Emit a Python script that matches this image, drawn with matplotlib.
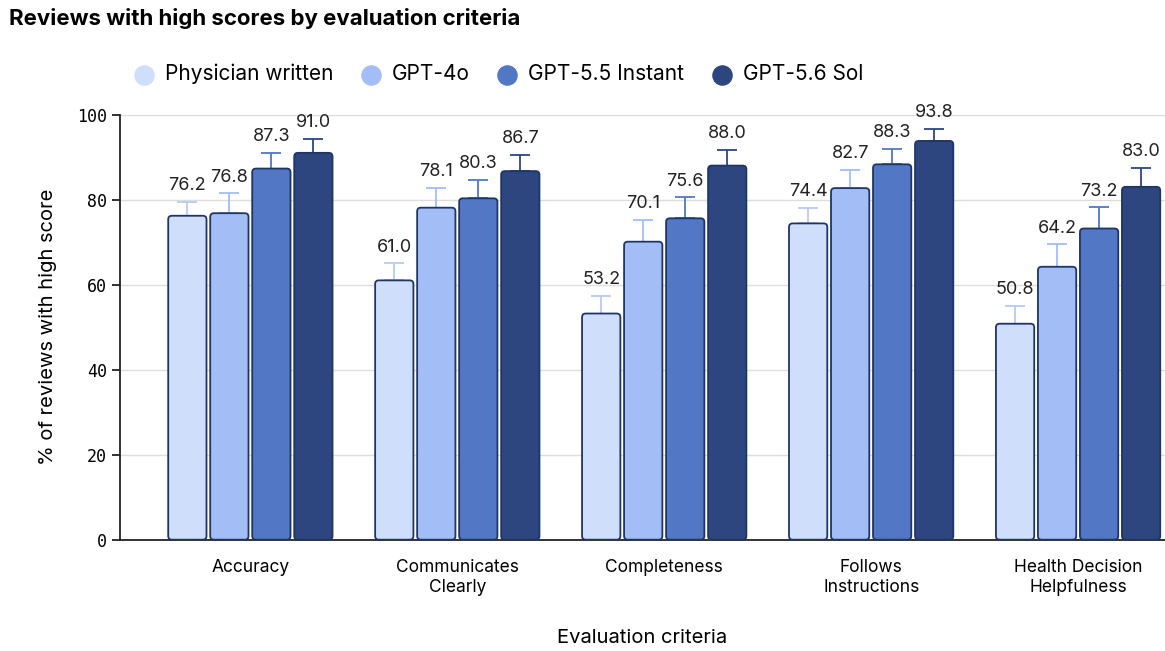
import matplotlib.pyplot as plt
from matplotlib.patches import FancyBboxPatch
import numpy as np

plt.rcParams['font.family'] = ['Inter', 'DejaVu Sans']

categories = ["Accuracy", "Communicates\nClearly", "Completeness", "Follows\nInstructions", "Health Decision\nHelpfulness"]
series = ["Physician written", "GPT-4o", "GPT-5.5 Instant", "GPT-5.6 Sol"]
values = [
    [76.2, 61.0, 53.2, 74.4, 50.8],
    [76.8, 78.1, 70.1, 82.7, 64.2],
    [87.3, 80.3, 75.6, 88.3, 73.2],
    [91.0, 86.7, 88.0, 93.8, 83.0],
]
errors = [
    [3.3, 4.0, 4.1, 3.6, 4.2],
    [4.7, 4.6, 5.1, 4.3, 5.3],
    [3.7, 4.4, 4.9, 3.7, 5.0],
    [3.3, 3.8, 3.7, 2.9, 4.4],
]
colors = ["#cfdffb", "#a3bdf7", "#5277c5", "#2d4680"]
err_colors = ["#b8ccf0", "#a3bdf7", "#5277c5", "#2d4680"]
edge = "#1f3566"

fig = plt.figure(figsize=(11.65, 6.51), dpi=100)
ax = fig.add_axes([0.103, 0.171, 0.897, 0.653])

x = np.arange(len(categories))
width = 0.185
step = 0.203
for i, s in enumerate(series):
    xs = x + (i - 1.5) * step
    for xi, v, e in zip(xs, values[i], errors[i]):
        p = FancyBboxPatch((xi - width / 2, 0), width, v,
                           boxstyle="round,pad=0,rounding_size=0.018",
                           mutation_aspect=48, facecolor=colors[i],
                           edgecolor=edge, linewidth=1.3, zorder=3)
        ax.add_patch(p)
        ax.errorbar(xi, v, yerr=[[0], [e]], color=err_colors[i], capsize=7,
                    elinewidth=1.3, capthick=1.3, zorder=2, clip_on=False)
        ax.text(xi, v + e + 1.8, f"{v:.1f}", ha="center", va="bottom",
                fontsize=13, color="#222222")
    ax.scatter([], [], s=190, color=colors[i], label=s)

ax.set_xlim(-0.63, 4.42)
ax.set_ylim(0, 100)
ax.set_yticks(range(0, 101, 20))
ax.set_yticklabels([str(t) for t in range(0, 101, 20)], family="DejaVu Sans Mono", fontsize=12)
ax.set_xticks(x)
ax.set_xticklabels(categories, fontsize=12.5)
ax.tick_params(axis="x", length=0, pad=14)
ax.tick_params(axis="y", length=6, width=1.3, color="#222222")
ax.grid(axis="y", color="#dddddd", linewidth=1, zorder=0)
ax.set_axisbelow(True)
for sp in ["top", "right"]:
    ax.spines[sp].set_visible(False)
ax.spines["left"].set_linewidth(1.3)
ax.spines["bottom"].set_linewidth(1.3)
ax.spines["left"].set_color("#222222")
ax.spines["bottom"].set_color("#222222")
ax.set_ylabel("% of reviews with high score", fontsize=14.5, labelpad=14)
ax.set_xlabel("Evaluation criteria", fontsize=14.5, labelpad=24)

fig.text(0.008, 0.972, "Reviews with high scores by evaluation criteria", fontsize=16,
         fontweight="bold", va="center")
fig.legend(loc="center left", bbox_to_anchor=(0.09, 0.886), ncol=4, frameon=False,
           fontsize=15, handletextpad=0.0, columnspacing=0.8)

fig.savefig("out.png", dpi=100)
